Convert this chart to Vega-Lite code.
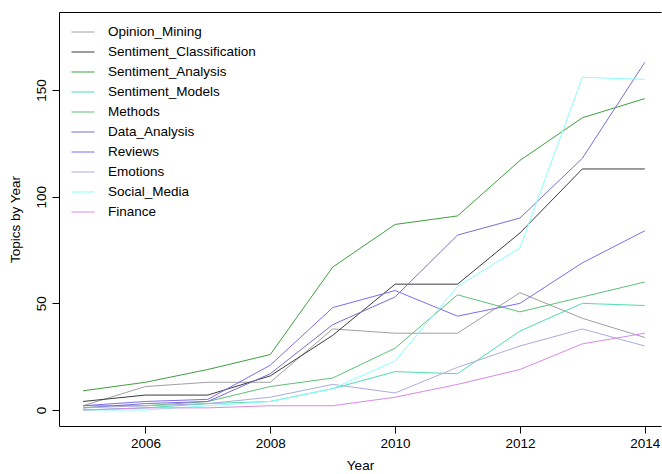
{
  "$schema": "https://vega.github.io/schema/vega-lite/v6.json",
  "width": 602,
  "height": 414,
  "autosize": {"type": "none"},
  "padding": {"left": 59, "top": 12, "right": 1, "bottom": 48},
  "background": "white",
  "config": {
    "view": {"stroke": null},
    "font": "Liberation Sans",
    "axis": {
      "domainColor": "#000000",
      "tickColor": "#000000",
      "labelColor": "#000000",
      "titleColor": "#000000",
      "labelFont": "Liberation Sans",
      "titleFont": "Liberation Sans",
      "labelFontSize": 13.5,
      "titleFontSize": 13.5,
      "titleFontWeight": "normal",
      "tickSize": 7,
      "grid": false,
      "domainWidth": 1,
      "tickWidth": 1
    },
    "legend": {
      "labelFont": "Liberation Sans",
      "labelFontSize": 13.5,
      "labelColor": "#000000"
    }
  },
  "data": {
    "values": [
      {"year": 2005, "topic": "Opinion_Mining", "count": 2},
      {"year": 2006, "topic": "Opinion_Mining", "count": 11},
      {"year": 2007, "topic": "Opinion_Mining", "count": 13},
      {"year": 2008, "topic": "Opinion_Mining", "count": 13},
      {"year": 2009, "topic": "Opinion_Mining", "count": 38},
      {"year": 2010, "topic": "Opinion_Mining", "count": 36},
      {"year": 2011, "topic": "Opinion_Mining", "count": 36},
      {"year": 2012, "topic": "Opinion_Mining", "count": 55},
      {"year": 2013, "topic": "Opinion_Mining", "count": 43},
      {"year": 2014, "topic": "Opinion_Mining", "count": 34},
      {"year": 2005, "topic": "Sentiment_Classification", "count": 4},
      {"year": 2006, "topic": "Sentiment_Classification", "count": 7},
      {"year": 2007, "topic": "Sentiment_Classification", "count": 7},
      {"year": 2008, "topic": "Sentiment_Classification", "count": 16},
      {"year": 2009, "topic": "Sentiment_Classification", "count": 35},
      {"year": 2010, "topic": "Sentiment_Classification", "count": 59},
      {"year": 2011, "topic": "Sentiment_Classification", "count": 59},
      {"year": 2012, "topic": "Sentiment_Classification", "count": 83},
      {"year": 2013, "topic": "Sentiment_Classification", "count": 113},
      {"year": 2014, "topic": "Sentiment_Classification", "count": 113},
      {"year": 2005, "topic": "Sentiment_Analysis", "count": 9},
      {"year": 2006, "topic": "Sentiment_Analysis", "count": 13},
      {"year": 2007, "topic": "Sentiment_Analysis", "count": 19},
      {"year": 2008, "topic": "Sentiment_Analysis", "count": 26},
      {"year": 2009, "topic": "Sentiment_Analysis", "count": 67},
      {"year": 2010, "topic": "Sentiment_Analysis", "count": 87},
      {"year": 2011, "topic": "Sentiment_Analysis", "count": 91},
      {"year": 2012, "topic": "Sentiment_Analysis", "count": 117},
      {"year": 2013, "topic": "Sentiment_Analysis", "count": 137},
      {"year": 2014, "topic": "Sentiment_Analysis", "count": 146},
      {"year": 2005, "topic": "Sentiment_Models", "count": 0},
      {"year": 2006, "topic": "Sentiment_Models", "count": 1},
      {"year": 2007, "topic": "Sentiment_Models", "count": 3},
      {"year": 2008, "topic": "Sentiment_Models", "count": 4},
      {"year": 2009, "topic": "Sentiment_Models", "count": 10},
      {"year": 2010, "topic": "Sentiment_Models", "count": 18},
      {"year": 2011, "topic": "Sentiment_Models", "count": 17},
      {"year": 2012, "topic": "Sentiment_Models", "count": 37},
      {"year": 2013, "topic": "Sentiment_Models", "count": 50},
      {"year": 2014, "topic": "Sentiment_Models", "count": 49},
      {"year": 2005, "topic": "Methods", "count": 2},
      {"year": 2006, "topic": "Methods", "count": 2},
      {"year": 2007, "topic": "Methods", "count": 4},
      {"year": 2008, "topic": "Methods", "count": 11},
      {"year": 2009, "topic": "Methods", "count": 15},
      {"year": 2010, "topic": "Methods", "count": 29},
      {"year": 2011, "topic": "Methods", "count": 54},
      {"year": 2012, "topic": "Methods", "count": 46},
      {"year": 2013, "topic": "Methods", "count": 53},
      {"year": 2014, "topic": "Methods", "count": 60},
      {"year": 2005, "topic": "Data_Analysis", "count": 1},
      {"year": 2006, "topic": "Data_Analysis", "count": 3},
      {"year": 2007, "topic": "Data_Analysis", "count": 4},
      {"year": 2008, "topic": "Data_Analysis", "count": 17},
      {"year": 2009, "topic": "Data_Analysis", "count": 40},
      {"year": 2010, "topic": "Data_Analysis", "count": 53},
      {"year": 2011, "topic": "Data_Analysis", "count": 82},
      {"year": 2012, "topic": "Data_Analysis", "count": 90},
      {"year": 2013, "topic": "Data_Analysis", "count": 118},
      {"year": 2014, "topic": "Data_Analysis", "count": 163},
      {"year": 2005, "topic": "Reviews", "count": 2},
      {"year": 2006, "topic": "Reviews", "count": 4},
      {"year": 2007, "topic": "Reviews", "count": 5},
      {"year": 2008, "topic": "Reviews", "count": 21},
      {"year": 2009, "topic": "Reviews", "count": 48},
      {"year": 2010, "topic": "Reviews", "count": 56},
      {"year": 2011, "topic": "Reviews", "count": 44},
      {"year": 2012, "topic": "Reviews", "count": 50},
      {"year": 2013, "topic": "Reviews", "count": 69},
      {"year": 2014, "topic": "Reviews", "count": 84},
      {"year": 2005, "topic": "Emotions", "count": 1},
      {"year": 2006, "topic": "Emotions", "count": 2},
      {"year": 2007, "topic": "Emotions", "count": 3},
      {"year": 2008, "topic": "Emotions", "count": 6},
      {"year": 2009, "topic": "Emotions", "count": 12},
      {"year": 2010, "topic": "Emotions", "count": 8},
      {"year": 2011, "topic": "Emotions", "count": 20},
      {"year": 2012, "topic": "Emotions", "count": 30},
      {"year": 2013, "topic": "Emotions", "count": 38},
      {"year": 2014, "topic": "Emotions", "count": 30},
      {"year": 2005, "topic": "Social_Media", "count": 0},
      {"year": 2006, "topic": "Social_Media", "count": 0},
      {"year": 2007, "topic": "Social_Media", "count": 2},
      {"year": 2008, "topic": "Social_Media", "count": 4},
      {"year": 2009, "topic": "Social_Media", "count": 10},
      {"year": 2010, "topic": "Social_Media", "count": 23},
      {"year": 2011, "topic": "Social_Media", "count": 58},
      {"year": 2012, "topic": "Social_Media", "count": 76},
      {"year": 2013, "topic": "Social_Media", "count": 156},
      {"year": 2014, "topic": "Social_Media", "count": 155},
      {"year": 2005, "topic": "Finance", "count": 0},
      {"year": 2006, "topic": "Finance", "count": 1},
      {"year": 2007, "topic": "Finance", "count": 1},
      {"year": 2008, "topic": "Finance", "count": 2},
      {"year": 2009, "topic": "Finance", "count": 2},
      {"year": 2010, "topic": "Finance", "count": 6},
      {"year": 2011, "topic": "Finance", "count": 12},
      {"year": 2012, "topic": "Finance", "count": 19},
      {"year": 2013, "topic": "Finance", "count": 31},
      {"year": 2014, "topic": "Finance", "count": 36}
    ]
  },
  "resolve": {"axis": {"x": "independent"}},
  "layer": [
    {
      "mark": {"type": "line", "strokeWidth": 1, "clip": true},
      "encoding": {
        "x": {
          "field": "year",
          "type": "quantitative",
          "scale": {"domain": [2004.615, 2014.26], "nice": false, "zero": false},
          "axis": {
            "title": "Year",
            "values": [2006, 2008, 2010, 2012, 2014],
            "format": "d",
            "labelPadding": 3,
            "titlePadding": 9,
            "labelFlush": false
          }
        },
        "y": {
          "field": "count",
          "type": "quantitative",
          "scale": {"domain": [-7.5, 186.6], "nice": false, "zero": false},
          "axis": {
            "title": "Topics by Year",
            "values": [0, 50, 100, 150],
            "labelAngle": -90,
            "labelAlign": "center",
            "labelBaseline": "bottom",
            "labelPadding": 4,
            "titlePadding": 12
          }
        },
        "color": {
          "field": "topic",
          "type": "nominal",
          "scale": {
            "domain": ["Opinion_Mining", "Sentiment_Classification", "Sentiment_Analysis", "Sentiment_Models", "Methods", "Data_Analysis", "Reviews", "Emotions", "Social_Media", "Finance"],
            "range": ["#a0a0a0", "#3c3c3c", "#3f9f3f", "#4fdcb0", "#5cc07a", "#7a6ed0", "#7f6cf0", "#acacdc", "#88ffff", "#d68ae8"]
          },
          "legend": {
            "title": null,
            "orient": "none",
            "legendX": 12,
            "legendY": 8,
            "padding": 0,
            "symbolType": "stroke",
            "symbolSize": 529,
            "symbolStrokeWidth": 1,
            "labelOffset": 13,
            "rowPadding": 1
          }
        }
      }
    },
    {
      "mark": {"type": "line", "opacity": 0},
      "encoding": {
        "x": {
          "field": "year",
          "type": "quantitative",
          "axis": {"orient": "top", "labels": false, "ticks": false, "title": null, "domain": true}
        },
        "y": {"field": "count", "type": "quantitative"}
      }
    }
  ]
}
